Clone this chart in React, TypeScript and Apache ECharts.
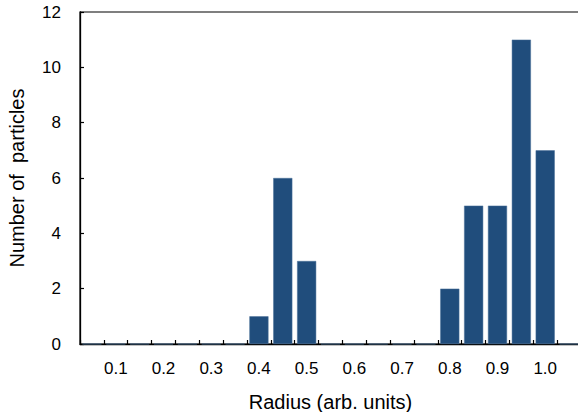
import React, { useEffect, useRef } from "react";
import * as echarts from "echarts";

const categories = ["0.05","0.1","0.15","0.2","0.25","0.3","0.35","0.4","0.45","0.5","0.55","0.6","0.65","0.7","0.75","0.8","0.85","0.9","0.95","1.0","1.05"];
const counts = [0,0,0,0,0,0,0,1,6,3,0,0,0,0,0,2,5,5,11,7,0];
const yTicks = { min: 0, max: 12, interval: 2 };

export default function App() {
  const ref = useRef<HTMLDivElement>(null);
  useEffect(() => {
    if (!ref.current) return;
    const chart = echarts.init(ref.current, null, { renderer: "svg" });
    const font = "'Liberation Sans', Arial, Helvetica, sans-serif";
    chart.setOption({
      animation: false,
      backgroundColor: "#ffffff",
      grid: {
        left: 80, top: 12, right: -3, bottom: 68,
        outerBoundsMode: "none", containLabel: false,
        show: true, borderColor: "#000", borderWidth: 1.2, backgroundColor: "transparent",
      },
      xAxis: {
        type: "category",
        data: categories,
        name: "Radius (arb. units)",
        nameLocation: "middle",
        nameGap: 48,
        nameTextStyle: { fontFamily: font, fontSize: 20, color: "#000" },
        axisLine: { lineStyle: { color: "#000", width: 1.3 } },
        axisTick: { show: true, inside: true, length: 4, interval: 0, lineStyle: { color: "#000", width: 1.2 } },
        axisLabel: {
          interval: (idx: number) => idx % 2 === 1,
          margin: 16,
          fontFamily: font,
          fontSize: 17,
          color: "#000",
        },
      },
      yAxis: {
        type: "value",
        ...yTicks,
        name: "Number of  particles",
        nameLocation: "middle",
        nameGap: 53,
        nameTextStyle: { fontFamily: font, fontSize: 20, color: "#000" },
        axisLine: { show: true, lineStyle: { color: "#000", width: 1.3 } },
        axisTick: { show: true, inside: true, length: 4, lineStyle: { color: "#000", width: 1.2 } },
        splitLine: { show: false },
        axisLabel: { margin: 19, fontFamily: font, fontSize: 17, color: "#000" },
      },
      series: [
        {
          type: "bar",
          data: counts,
          barCategoryGap: "20%",
          itemStyle: { color: "#204d7c", borderColor: "#4a7098", borderWidth: 0.5 },
        },
      ],
    });
    return () => chart.dispose();
  }, []);
  return <div ref={ref} style={{ position: "fixed", left: 0, top: 0, width: 578, height: 412 }} />;
}
